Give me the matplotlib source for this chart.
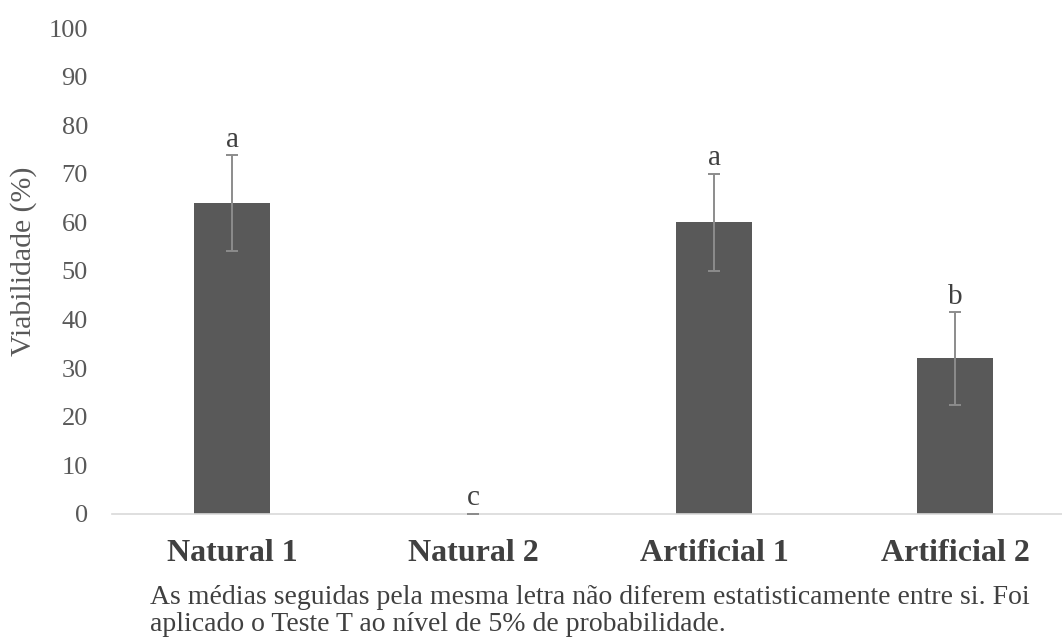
import matplotlib.pyplot as plt
import numpy as np

# viabilidade media e desvio por tratamento
tratamentos = ['Natural 1', 'Natural 2', 'Artificial 1', 'Artificial 2']
viabilidade = [64, 0, 60, 32]
desvio = [9.8, 0, 10, 9.5]
letras = ['a', 'c', 'a', 'b']
yticks = np.arange(0, 101, 10)

nota = ('As médias seguidas pela mesma letra não diferem estatisticamente entre si. Foi\n'
        'aplicado o Teste T ao nível de 5% de probabilidade.')


def createPlot():
    plt.rcParams['font.family'] = ['Liberation Serif', 'DejaVu Serif']
    cinza = '#595959'

    fig = plt.figure(figsize=(10.62, 6.38), dpi=100)
    ax = fig.add_axes([0.105, 0.1944, 0.9082, 0.7617])

    x = np.arange(len(tratamentos))
    ax.bar(x, viabilidade, width=0.315, color=cinza, zorder=2)
    ax.errorbar(x, viabilidade, yerr=desvio, fmt='none', ecolor='#8c8c8c',
                elinewidth=1.4, capsize=4.3, capthick=1.4, zorder=3)

    # letras do teste T acima de cada barra
    for xi, v, e, l in zip(x, viabilidade, desvio, letras):
        ax.text(xi, v + e + 1.8, l, ha='center', va='baseline', fontsize=21, color='#404040')

    ax.set_xlim(-0.5, 3.5)
    ax.set_ylim(0, 100)
    ax.set_yticks(yticks)
    ax.set_xticks(x)
    ax.set_xticklabels(tratamentos, fontsize=23, fontweight='bold', color='#404040')
    ax.tick_params(axis='y', length=0, labelsize=19, labelcolor=cinza, pad=17)
    ax.tick_params(axis='x', length=0, pad=18)

    for s in ['top', 'right', 'left']:
        ax.spines[s].set_visible(False)
    ax.spines['bottom'].set_color('#d9d9d9')
    ax.spines['bottom'].set_linewidth(1.2)

    ax.set_ylabel('Viabilidade (%)', fontsize=21.5, color=cinza)
    ax.yaxis.set_label_coords(-0.077, 0.52)

    fig.text(0.1412, 0.002, nota, fontsize=20, color='#404040', ha='left', va='bottom',
             linespacing=1.08)

    plt.savefig('out.png', dpi=100)


if __name__ == "__main__":
    createPlot()
